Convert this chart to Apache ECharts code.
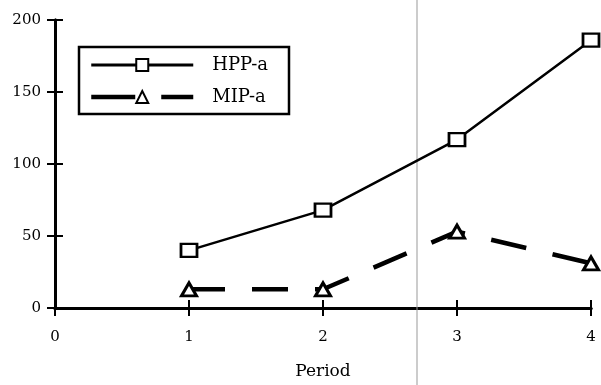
<!DOCTYPE html>
<html>
<head>
<meta charset="utf-8">
<script src="https://cdn.jsdelivr.net/npm/echarts@6/dist/echarts.min.js"></script>
<style>html,body{margin:0;padding:0;background:#fff;}#c{width:601px;height:385px;}</style>
</head>
<body>
<div id="c"></div>
<script>
var periods = [1, 2, 3, 4];
var hppA = [40, 68, 117, 186];
var mipA = [13, 13, 53, 31];
var seriesNames = ['HPP-a', 'MIP-a'];
var xTicks = [0, 1, 2, 3, 4];
var yTicks = [0, 50, 100, 150, 200];

var FONT = '"DejaVu Serif", "Liberation Serif", serif';
var chart = echarts.init(document.getElementById('c'));

function pairs(xs, ys) { return xs.map(function (x, i) { return [x, ys[i]]; }); }

var axisCommon = {
  axisLine: { show: true, onZero: false, lineStyle: { color: '#000', width: 3 } },
  splitLine: { show: false }
};

chart.setOption({
  animation: false,
  backgroundColor: '#fff',
  grid: { left: 55, right: 10, top: 20, bottom: 76 },
  legend: {
    orient: 'vertical',
    left: 79, top: 47,
    padding: [9, 21, 8, 10],
    itemGap: 14,
    itemWidth: 102,
    itemHeight: 15,
    borderColor: '#000',
    borderWidth: 2.5,
    borderRadius: 0,
    textStyle: { fontFamily: FONT, fontSize: 18, color: '#000', padding: [0, 0, 0, 14] },
    data: [
      { name: seriesNames[0], lineStyle: { width: 3, color: '#000' } },
      { name: seriesNames[1], lineStyle: { width: 4.5, color: '#000', type: [44, 26] } }
    ]
  },
  xAxis: [
    Object.assign({}, axisCommon, {
      type: 'value', min: 0, max: 4, interval: 1,
      name: 'Period', nameLocation: 'middle', nameGap: 55,
      nameTextStyle: { fontFamily: FONT, fontSize: 17, color: '#000' },
      axisTick: { show: true, inside: false, length: 8, lineStyle: { color: '#000', width: 2 } },
      axisLabel: { fontFamily: FONT, fontSize: 15, color: '#000', margin: 22,
        formatter: function (v) { return xTicks.indexOf(v) >= 0 ? String(v) : ''; } }
    }),
    Object.assign({}, axisCommon, {
      type: 'value', min: 0, max: 4, interval: 1, position: 'bottom',
      axisTick: { show: true, inside: true, length: 8, lineStyle: { color: '#000', width: 2 } },
      axisLabel: { show: false }
    })
  ],
  yAxis: [
    Object.assign({}, axisCommon, {
      type: 'value', min: 0, max: 200, interval: 50,
      axisTick: { show: true, inside: false, length: 8, lineStyle: { color: '#000', width: 2 } },
      axisLabel: { fontFamily: FONT, fontSize: 15, color: '#000', margin: 14,
        formatter: function (v) { return yTicks.indexOf(v) >= 0 ? String(v) : ''; } }
    }),
    Object.assign({}, axisCommon, {
      type: 'value', min: 0, max: 200, interval: 50, position: 'left',
      axisTick: { show: true, inside: true, length: 8, lineStyle: { color: '#000', width: 2 } },
      axisLabel: { show: false }
    })
  ],
  series: [
    {
      name: seriesNames[0], type: 'line', data: pairs(periods, hppA),
      symbol: 'rect', symbolSize: [16, 13], showSymbol: true,
      lineStyle: { color: '#000', width: 2.5, type: 'solid' },
      itemStyle: { color: '#fff', borderColor: '#000', borderWidth: 2.5 },
      z: 3
    },
    {
      name: seriesNames[1], type: 'line', data: pairs(periods, mipA),
      symbol: 'triangle', symbolSize: [15, 13], showSymbol: true,
      lineStyle: { color: '#000', width: 4.5, type: [36, 27] },
      itemStyle: { color: '#fff', borderColor: '#000', borderWidth: 3 },
      z: 3
    }
  ],
  graphic: [
    { type: 'line', shape: { x1: 417, y1: 0, x2: 417, y2: 385 }, style: { stroke: '#999', lineWidth: 1 }, z: 1 }
  ]
});
</script>
</body>
</html>
